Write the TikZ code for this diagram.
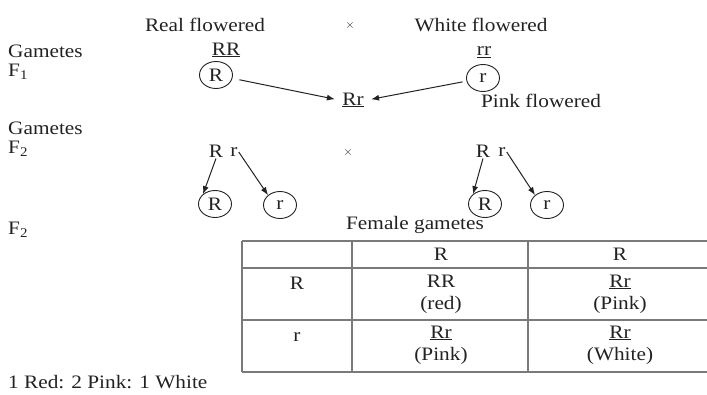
\documentclass[tikz,border=0pt]{standalone}
\usepackage{fontspec}
\setmainfont{Liberation Serif}[FakeStretch=1.12]
\usetikzlibrary{positioning,arrows.meta,shapes.geometric}
\definecolor{tinta}{HTML}{222222}
\definecolor{rejilla}{HTML}{7A7A7A}

\begin{document}
\begin{tikzpicture}[x=1pt, y=-1pt, font=\fontsize{19}{22}\selectfont, text=tinta,
    gam/.style={draw=tinta, ellipse, line width=0.9pt, minimum width=33pt,
                minimum height=27pt, inner sep=0pt},
    flecha/.style={draw=tinta, line width=1pt, -{Latex[length=8pt,width=6pt]}},
    celda/.style={align=center, inner sep=1pt},
    rotulo/.style={anchor=west, inner sep=0pt}]
  \useasboundingbox (0,0) rectangle (707,394);

  % left column labels
  \node[rotulo] (lgam1) at (8,51) {Gametes};
  \node[rotulo] (lf1) at (8,72) {F\textsubscript{1}};
  \node[rotulo] (lgam2) at (8,128) {Gametes};
  \node[rotulo] (lf2a) at (8,149) {F\textsubscript{2}};
  \node[rotulo] (lf2b) at (8,230) {F\textsubscript{2}};

  % parents
  \node (rojo) at (205,25) {Real flowered};
  \node (cruz1) at (350,25) {\fontsize{12}{12}\selectfont$\times$};
  \node (blanco) at (481,25) {White flowered};
  \node (pRR) at (226,50) {\underline{RR}};
  \node (prr) at (484,52) {\underline{rr}};
  \node[gam] (gR) at (216,75) {R};
  \node[gam] (gr) at (483,78) {r};

  % F1
  \node (hib) at (353,100) {\underline{Rr}};
  \node (rosa) at (541,101) {Pink flowered};
  \draw[flecha, shorten <=7pt, shorten >=4pt] (gR) -- (hib.west);
  \draw[flecha, shorten <=4pt, shorten >=4pt] (gr) -- (hib.east);

  % F2 gametes
  \node[inner sep=1pt] (aR) at (216,151) {R};
  \node[inner sep=1pt] (ar) at (234,152) {r};
  \node (cruz2) at (348,152) {\fontsize{12}{12}\selectfont$\times$};
  \node[inner sep=1pt] (bR) at (483,151) {R};
  \node[inner sep=1pt] (br) at (502,152) {r};
  \node[gam] (gaR) at (215,204) {R};
  \node[gam] (gar) at (280,205) {r};
  \node[gam] (gbR) at (485,204) {R};
  \node[gam] (gbr) at (547,205) {r};
  \draw[flecha] (aR.south) -- (gaR.north west);
  \draw[flecha] (ar.east) -- (gar.north west);
  \draw[flecha] (bR.south) -- (gbR.north west);
  \draw[flecha] (br.east) -- (gbr.north west);

  % checkerboard
  \node (hembra) at (415,225) {Female gametes};
  \foreach \y in {241,268,320,372}
    \draw[rejilla, line width=1.6pt] (242,\y) -- (707,\y);
  \foreach \x in {242,352,528}
    \draw[rejilla, line width=1.6pt] (\x,241) -- (\x,372);
  \node[celda] (h1) at (441,254) {R};
  \node[celda] (h2) at (620,254) {R};
  \node[celda] (m1) at (297,283) {R};
  \node[celda] (m2) at (297,337) {r};
  \node[celda] (c11) at (441,294) {RR\\(red)};
  \node[celda] (c12) at (620,294) {\underline{Rr}\\(Pink)};
  \node[celda] (c21) at (441,345) {\underline{Rr}\\(Pink)};
  \node[celda] (c22) at (620,345) {\underline{Rr}\\(White)};

  \node[rotulo] (razon) at (8,382) {1 Red: 2 Pink: 1 White};
\end{tikzpicture}
\end{document}
